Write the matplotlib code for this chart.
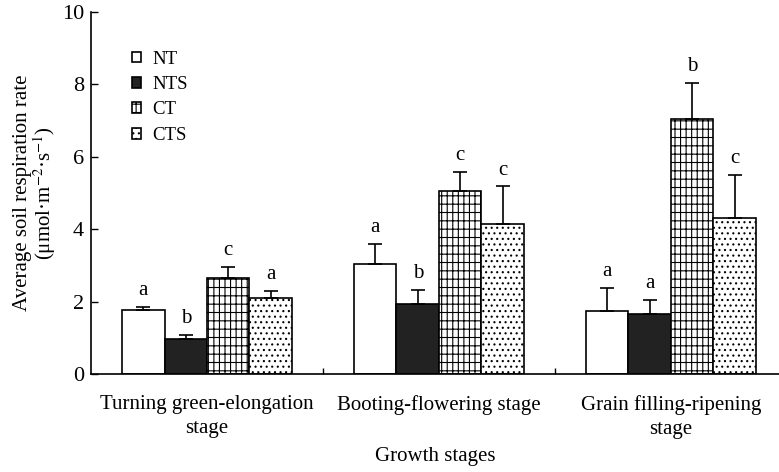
import numpy as np
import matplotlib
matplotlib.use("Agg")
import matplotlib.pyplot as plt

plt.rcParams['font.family'] = ['Liberation Serif', 'DejaVu Serif']
plt.rcParams['mathtext.fontset'] = 'stix'
plt.rcParams['hatch.linewidth'] = 0.8

stages = ['Turning green-elongation\nstage', 'Booting-flowering stage',
          'Grain filling-ripening\nstage']
treatments = ['NT', 'NTS', 'CT', 'CTS']

# mean respiration rate per treatment, one value per stage
nt = [1.78, 3.05, 1.74]
nts = [0.97, 1.93, 1.65]
ct = [2.64, 5.05, 7.05]
cts = [2.11, 4.13, 4.32]

nt_err = [0.08, 0.53, 0.63]
nts_err = [0.10, 0.38, 0.40]
ct_err = [0.32, 0.53, 0.98]
cts_err = [0.18, 1.05, 1.17]

nt_sig = ['a', 'a', 'a']
nts_sig = ['b', 'b', 'a']
ct_sig = ['c', 'c', 'b']
cts_sig = ['a', 'c', 'c']

means = [nt, nts, ct, cts]
errs = [nt_err, nts_err, ct_err, cts_err]
sigs = [nt_sig, nts_sig, ct_sig, cts_sig]
faces = ['white', '#222222', 'white', 'white']
hatches = [None, None, '++|', '...']

fig = plt.figure(figsize=(7.79, 4.72), dpi=100)
ax = fig.add_axes([0.1168, 0.2076, 0.8832, 0.767])

x = np.arange(len(stages))
w = 0.183
for i in range(4):
    pos = x + (i - 1.5) * w
    ax.bar(pos, means[i], width=w, color=faces[i], edgecolor='black',
           linewidth=1.2, hatch=hatches[i], label=treatments[i], zorder=2)
    ax.errorbar(pos, means[i], yerr=[np.zeros(3), errs[i]], fmt='none',
                ecolor='black', elinewidth=1.2, capsize=5, capthick=1.2, zorder=3)
    for px, m, e, s in zip(pos, means[i], errs[i], sigs[i]):
        ax.annotate(s, (px, m + e), xytext=(0, 5), textcoords='offset points',
                    ha='center', va='bottom', fontsize=15)

ax.set_xlim(-0.5, 2.466)
ax.set_ylim(0, 10)
ax.set_yticks([0, 2, 4, 6, 8, 10])
ax.set_xticks(x)
ax.set_xticklabels(stages, fontsize=15, linespacing=1.35)
ax.set_xticks([0.5, 1.5], minor=True)
ax.tick_params(axis='x', which='major', length=0, pad=15)
ax.tick_params(axis='x', which='minor', direction='in', length=4, width=1)
ax.tick_params(axis='y', direction='in', length=5, width=1, labelsize=16, pad=5)
for side in ['top', 'right']:
    ax.spines[side].set_visible(False)
for side in ['left', 'bottom']:
    ax.spines[side].set_linewidth(1.2)

ax.set_xlabel('Growth stages', fontsize=15, labelpad=6)
ax.set_ylabel('Average soil respiration rate\n(μmol·m$^{-2}$·s$^{-1}$)',
              fontsize=15, linespacing=0.95, labelpad=3)

ax.legend(loc='upper left', bbox_to_anchor=(0.035, 0.94), frameon=False,
          fontsize=13.5, handlelength=0.5, handleheight=0.5,
          handletextpad=0.6, labelspacing=0.45)

fig.savefig('out.png', dpi=100)
